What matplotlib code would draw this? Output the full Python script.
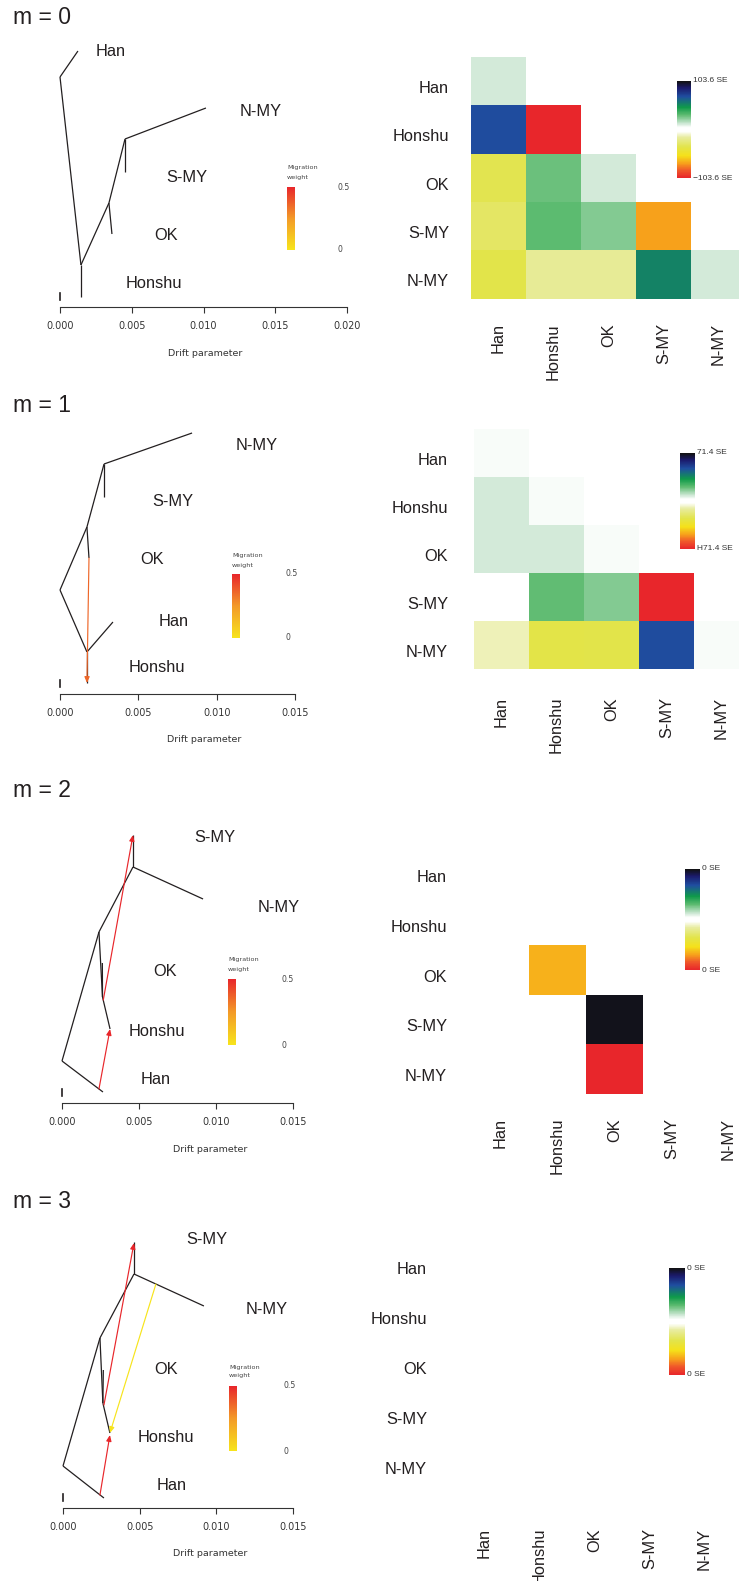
import numpy as np
import matplotlib
matplotlib.use("Agg")
import matplotlib.pyplot as plt
from matplotlib.colors import LinearSegmentedColormap, Normalize
from matplotlib.cm import ScalarMappable

W, H = 739, 1581
PT = 0.72  # points per pixel at dpi 100
nan = np.nan

pops = ['Han', 'Honshu', 'OK', 'S-MY', 'N-MY']

# ---- trees: internal nodes R, A, B, C, D + tips; drift and height above axis ----
t0_node = ['R', 'A', 'B', 'C', 'Han', 'Honshu', 'OK', 'S-MY', 'N-MY']
t0_drift = [0.0, 0.00146, 0.00341, 0.00453, 0.00125, 0.00146, 0.00362, 0.00453, 0.01017]
t0_height = [230, 42, 104, 168, 256, 10, 73, 135, 199]
t0_edges = [('R', 'Han'), ('R', 'A'), ('A', 'Honshu'), ('A', 'B'), ('B', 'OK'),
            ('B', 'C'), ('C', 'S-MY'), ('C', 'N-MY')]
t0_lab_drift = [0.00251, 0.0046, 0.00655, 0.00739, 0.01254]
t0_lab_height = [255, 23, 71, 130, 195]
t0_mig = []

t1_node = ['R', 'A', 'B', 'C', 'Han', 'Honshu', 'OK', 'S-MY', 'N-MY']
t1_drift = [0.0, 0.00172, 0.00172, 0.00281, 0.00338, 0.00172, 0.00185, 0.00281, 0.00843]
t1_height = [104, 42, 167, 230, 72, 11, 136, 197, 261]
t1_edges = [('R', 'B'), ('B', 'C'), ('C', 'N-MY'), ('C', 'S-MY'), ('B', 'OK'),
            ('R', 'A'), ('A', 'Han'), ('A', 'Honshu')]
t1_lab_drift = [0.00632, 0.0044, 0.0051, 0.00587, 0.0112]
t1_lab_height = [73, 26, 135, 192, 248]
t1_mig = [(0.00185, 136, 0.00172, 11, 0.36)]

t2_node = ['R', 'B', 'C', 'D', 'Han', 'Honshu', 'OK', 'S-MY', 'N-MY']
t2_drift = [0.0, 0.0024, 0.00461, 0.00263, 0.00266, 0.00312, 0.00262, 0.00461, 0.00916]
t2_height = [42, 171, 236, 106, 11, 74, 140, 268, 204]
t2_edges = [('R', 'Han'), ('R', 'B'), ('B', 'C'), ('C', 'S-MY'), ('C', 'N-MY'),
            ('B', 'D'), ('D', 'OK'), ('D', 'Honshu')]
t2_lab_drift = [0.00513, 0.00435, 0.00591, 0.00857, 0.01273]
t2_lab_height = [24, 72, 131, 265, 195]
t2_mig = [(0.0024, 14, 0.00312, 74, 0.5), (0.00268, 103, 0.00461, 268, 0.5)]

t3_node = ['R', 'B', 'C', 'D', 'Han', 'Honshu', 'OK', 'S-MY', 'N-MY']
t3_drift = [0.0, 0.00241, 0.00463, 0.0026, 0.00267, 0.00306, 0.00263, 0.00463, 0.00919]
t3_height = [42, 170, 234, 105, 10, 75, 138, 266, 202]
t3_edges = t2_edges
t3_lab_drift = [0.00613, 0.00489, 0.00593, 0.00802, 0.01193]
t3_lab_height = [22, 71, 138, 268, 198]
t3_mig = [(0.00241, 13, 0.00306, 73, 0.5), (0.00267, 103, 0.00463, 265, 0.5),
          (0.00606, 224, 0.00306, 75, 0.0)]

# ---- residual matrices (scaled to -1..1 of the SE range), lower triangle ----
res0 = [[0.11, nan, nan, nan, nan],
        [0.68, -1.0, nan, nan, nan],
        [-0.35, 0.276, 0.11, nan, nan],
        [-0.30, 0.30, 0.236, -0.70, nan],
        [-0.36, -0.18, -0.18, 0.53, 0.11]]
res1 = [[0.05, nan, nan, nan, nan],
        [0.11, 0.05, nan, nan, nan],
        [0.11, 0.11, 0.05, nan, nan],
        [0.0, 0.29, 0.236, -1.0, nan],
        [-0.13, -0.37, -0.36, 0.68, 0.05]]
res2 = [[0.0, nan, nan, nan, nan],
        [0.0, 0.0, nan, nan, nan],
        [0.0, -0.66, 0.0, nan, nan],
        [0.0, 0.0, 0.98, 0.0, nan],
        [0.0, 0.0, -1.0, 0.0, 0.0]]
res3 = [[0.0, nan, nan, nan, nan],
        [0.0, 0.0, nan, nan, nan],
        [0.0, 0.0, 0.0, nan, nan],
        [0.0, 0.0, 0.0, 0.0, nan],
        [0.0, 0.0, 0.0, 0.0, 0.0]]
se_top = ['103.6 SE', '71.4 SE', '0 SE', '0 SE']
se_bottom = ['\u2212103.6 SE', 'H71.4 SE', '0 SE', '0 SE']

resid_cmap = LinearSegmentedColormap.from_list('resid', [
    (0.00, '#e8262b'), (0.08, '#f0592a'), (0.15, '#f7a21b'), (0.23, '#f5e11a'),
    (0.32, '#e2e44b'), (0.42, '#e8eca0'), (0.48, '#ffffff'), (0.52, '#ffffff'),
    (0.56, '#cfe8d6'), (0.65, '#5dbb70'), (0.73, '#0f9a4a'), (0.84, '#1f4ea0'),
    (0.93, '#1b1a6b'), (1.00, '#111111')])
mig_cmap = LinearSegmentedColormap.from_list('mig', ['#f7e41c', '#f39a28', '#e8262b'])
mig_norm = Normalize(0, 0.5)

LAB = 'Liberation Sans'
INK = '#231f20'

fig = plt.figure(figsize=(W / 100, H / 100), dpi=100)


def px_ax(left, top, w, h):
    return fig.add_axes([left / W, 1 - (top + h) / H, w / W, h / H])


def px_text(x, y, s, **kw):
    fig.text(x / W, 1 - y / H, s, **kw)


def draw_tree(geo, node, drift, height, edges, lab_d, lab_h, mig):
    left, spine, width, xmax, dp_x = geo
    ah = 290
    ax = px_ax(left, spine - ah, width, ah)
    ax.patch.set_visible(False)
    ax.set_xlim(0, xmax)
    ax.set_ylim(0, ah)
    pos = {n: (d, h) for n, d, h in zip(node, drift, height)}
    for a, b in edges:
        ax.plot([pos[a][0], pos[b][0]], [pos[a][1], pos[b][1]], color=INK, lw=0.9,
                solid_capstyle='butt', clip_on=False)
    for x0, y0, x1, y1, w in mig:
        ax.annotate('', xy=(x1, y1), xytext=(x0, y0), annotation_clip=False,
                    arrowprops=dict(arrowstyle='-|>,head_length=0.35,head_width=0.15',
                                    color=mig_cmap(mig_norm(w)), lw=0.85,
                                    shrinkA=0, shrinkB=0))
    for name, d, h in zip(pops, lab_d, lab_h):
        ax.text(d, h, name, ha='left', va='center', fontsize=11.8, family=LAB, color=INK)
    # small drift scale mark
    ax.plot([0, 0], [7, 14], color=INK, lw=1.2, clip_on=False)
    for s in ['left', 'top', 'right']:
        ax.spines[s].set_visible(False)
    ax.spines['bottom'].set_color('#333333')
    ax.spines['bottom'].set_linewidth(0.8)
    ticks = np.arange(0, xmax + 1e-9, 0.005)
    ax.set_xticks(ticks)
    ax.set_xticklabels([f'{t:.3f}' for t in ticks])
    ax.set_yticks([])
    ax.tick_params(axis='x', length=6 * PT, width=0.8, color='#333333', pad=5.5,
                   labelsize=6.9, labelcolor='#333333')
    ax.text((dp_x - left) / width, -46 / ah, 'Drift parameter', transform=ax.transAxes,
            ha='center', va='center', fontsize=6.8, color='#333333')
    return ax


def draw_mig_legend(tx, ty, bar_left, bar_top, bar_h, lx):
    px_text(tx, ty, 'Migration', fontsize=4.6, color='#444444', va='center')
    px_text(tx, ty + 9, 'weight', fontsize=4.6, color='#444444', va='center')
    cax = px_ax(bar_left, bar_top, 8, bar_h)
    cb = fig.colorbar(ScalarMappable(mig_norm, mig_cmap), cax=cax)
    cb.outline.set_visible(False)
    cb.set_ticks([])
    px_text(lx, bar_top, '0.5', fontsize=5.6, color='#444444', va='center')
    px_text(lx, bar_top + bar_h, '0', fontsize=5.6, color='#444444', va='center')


def draw_resid(geo, cgeo, res, top_lab, bot_lab):
    left, top, cw, rh, ylab_right, xlab_top = geo
    ax = px_ax(left, top, 5 * cw, 5 * rh)
    data = np.ma.masked_invalid(np.array(res, dtype=float))
    im = ax.pcolormesh(np.arange(6), np.arange(6), data, cmap=resid_cmap,
                       vmin=-1, vmax=1, antialiased=False, linewidth=0)
    ax.set_xlim(0, 5)
    ax.set_ylim(5, 0)
    for s in ax.spines.values():
        s.set_visible(False)
    ax.set_xticks(np.arange(5) + 0.5)
    ax.set_xticklabels(pops, rotation=90, va='top', family=LAB, fontsize=11.8, color=INK)
    ax.set_yticks(np.arange(5) + 0.62)
    ax.set_yticklabels(pops, family=LAB, fontsize=11.8, color=INK)
    ax.tick_params(axis='x', length=0, pad=(xlab_top - (top + 5 * rh)) * PT)
    ax.tick_params(axis='y', length=0, pad=(left - ylab_right) * PT)
    cl, ct, cwid, ch = cgeo
    cax = px_ax(cl, ct, cwid, ch)
    cb = fig.colorbar(im, cax=cax)
    cb.outline.set_visible(False)
    cb.set_ticks([])
    cax.text(1.12, 1.0, top_lab, transform=cax.transAxes, ha='left', va='center',
             fontsize=6, family=LAB, color='#333333')
    cax.text(1.12, 0.0, bot_lab, transform=cax.transAxes, ha='left', va='center',
             fontsize=6, family=LAB, color='#333333')


# m = 0
px_text(13, 18, 'm = 0', fontsize=16.5, family=LAB, va='center', color=INK)
draw_tree((60, 307, 287, 0.020, 205), t0_node, t0_drift, t0_height, t0_edges,
          t0_lab_drift, t0_lab_height, t0_mig)
draw_mig_legend(287, 168, 287, 187, 63, 337)
draw_resid((471, 57, 55, 48.3, 449, 323), (677, 81, 14, 97), res0, se_top[0], se_bottom[0])

# m = 1
px_text(13, 405, 'm = 1', fontsize=16.5, family=LAB, va='center', color=INK)
draw_tree((60, 694, 235, 0.015, 204), t1_node, t1_drift, t1_height, t1_edges,
          t1_lab_drift, t1_lab_height, t1_mig)
draw_mig_legend(232, 556, 232, 574, 64, 285)
draw_resid((474, 429, 55, 48, 448, 697), (680, 453, 15, 96), res1, se_top[1], se_bottom[1])

# m = 2
px_text(13, 790, 'm = 2', fontsize=16.5, family=LAB, va='center', color=INK)
draw_tree((62, 1103, 231, 0.015, 210), t2_node, t2_drift, t2_height, t2_edges,
          t2_lab_drift, t2_lab_height, t2_mig)
draw_mig_legend(228, 960, 228, 979, 66, 282)
draw_resid((472, 845.5, 57, 49.7, 447, 1118), (685, 869, 15, 101), res2, se_top[2], se_bottom[2])

# m = 3
px_text(13, 1202, 'm = 3', fontsize=16.5, family=LAB, va='center', color=INK)
draw_tree((63, 1508, 230, 0.015, 210), t3_node, t3_drift, t3_height, t3_edges,
          t3_lab_drift, t3_lab_height, t3_mig)
draw_mig_legend(229, 1367, 229, 1386, 65, 283)
draw_resid((457, 1237, 55, 50, 427, 1528), (669, 1268, 16, 107), res3, se_top[3], se_bottom[3])

fig.savefig('out.png', dpi=100)
